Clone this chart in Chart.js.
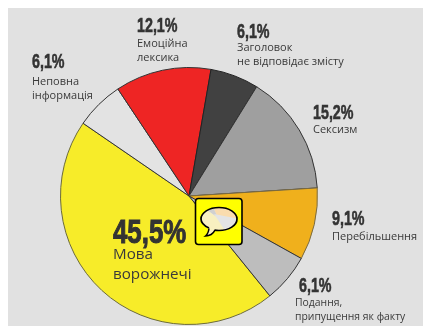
<!DOCTYPE html>
<html>
<head>
<meta charset="utf-8">
<script src="https://cdn.jsdelivr.net/npm/chart.js"></script>
<style>
	html, body { margin: 0; padding: 0; background: #fff; overflow: hidden; }
	#panel { position: absolute; left: 8px; top: 8px; width: 415px; height: 318px; background: #e1e1e1; }
	#wrap { position: absolute; left: 59px; top: 66px; width: 260px; height: 260px; }
	.pct, .name { position: absolute; white-space: pre; color: #333; }
	.pct { font-family: "Liberation Sans", sans-serif; font-weight: bold; font-size: 21px; line-height: 20px; transform-origin: 0 0; transform: scaleX(0.68); -webkit-text-stroke: 0.6px #333; }
	.name { font-family: "Open Sans", sans-serif; font-size: 11px; line-height: 14px; color: #3a3a3a; }
	#icon { position: absolute; left: 194px; top: 197px; }
</style>
</head>
<body>
<div id="panel"></div>
<div id="wrap"><canvas id="myChart"></canvas></div>
<svg id="icon" width="50" height="50" viewBox="194 197 50 50">
	<rect x="195.5" y="198.5" width="46.5" height="46" rx="3" fill="#ffff00" stroke="#000" stroke-width="1.6"/>
	<clipPath id="bubble"><ellipse cx="219" cy="219" rx="18" ry="11.5"/></clipPath>
	<ellipse cx="219" cy="219" rx="18" ry="11.5" fill="#e4e4e4"/>
	<g clip-path="url(#bubble)">
		<path d="M218 218 L212 205 L240 205 L240 219 Z" fill="#fadcae"/>
		<path d="M218 218 L200 205 L212 205 Z" fill="#d0d0d0"/>
		<path d="M218 218 L200 205 L198 232 L226 232 Z" fill="#f8f0c0"/>
		<path d="M214 214 L226 232 L240 232 L240 219 Z" fill="#e4e4e4"/>
	</g>
	<path d="M209 228.5 C208.5 232 207.5 234.5 205.5 236 C209.5 236 213 234 215 230.2" fill="#f8f0c0" stroke="#000" stroke-width="1.5"/>
	<path d="M209 228 C203.5 225.5 201 222.5 201 219 C201 212.6 209 207.5 219 207.5 C229 207.5 237 212.6 237 219 C237 225.4 229 230.5 219 230.5 C217.5 230.5 216 230.4 214.5 230.1" fill="none" stroke="#000" stroke-width="1.7"/>
</svg>
<script>
	// values going clockwise from the bottom right, starting at the big yellow slice
	const categories = ["Мова\nворожнечі", "Неповна\nінформація", "Емоційна\nлексика", "Заголовок\nне відповідає змісту", "Сексизм", "Перебільшення", "Подання,\nприпущення як факту"];
	const percents = [45.5, 6.1, 12.1, 6.1, 15.2, 9.1, 6.1];
	const colors = ["#f7ec29", "#e3e3e3", "#ee2524", "#414141", "#9f9f9f", "#f0b01c", "#bdbdbd"];
	const edgeColors = ["#6b6a3a", "#333333", "#333333", "#222222", "#333333", "#7a6a40", "#333333"];

	// where the captions sit: pct x, pct y, name x, name y, pct size, name size, name line height
	const captionPos = [
		[113, 214, 113, 243, 34, 15.2, 20],
		[32, 51, 32, 74, 0, 0, 0],
		[137, 15, 137, 36, 0, 0, 0],
		[237, 21, 237, 40, 0, 0, 0],
		[313, 102, 313, 122, 0, 0, 0],
		[332, 208, 332, 229, 0, 0, 0],
		[299, 275, 295, 295, 0, 10.4, 14],
	];

	percents.forEach((p, i) => {
		let pos = captionPos[i];
		let pct = document.createElement("div");
		pct.className = "pct";
		pct.innerText = p.toFixed(1).replace(".", ",") + "%";
		pct.style.left = pos[0] + "px";
		pct.style.top = pos[1] + "px";
		if (pos[4]) {
			pct.style.fontSize = pos[4] + "px";
			pct.style.lineHeight = pos[4] + "px";
			pct.style.webkitTextStroke = "1px #333";
			pct.style.transform = "scaleX(0.76)";
		}
		document.body.appendChild(pct);

		let name = document.createElement("div");
		name.className = "name";
		name.textContent = categories[i];
		name.style.left = pos[2] + "px";
		name.style.top = pos[3] + "px";
		if (pos[5]) {
			name.style.fontSize = pos[5] + "px";
			name.style.lineHeight = pos[6] + "px";
		}
		document.body.appendChild(name);
	});

	new Chart(document.getElementById("myChart"), {
		type: "pie",
		data: {
			labels: categories,
			datasets: [{
				data: percents,
				backgroundColor: colors,
				borderColor: edgeColors,
				borderWidth: 1,
			}]
		},
		options: {
			animation: false,
			responsive: true,
			maintainAspectRatio: false,
			rotation: 141,
			layout: { padding: 1 },
			plugins: {
				legend: { display: false },
				tooltip: { enabled: false },
			},
		}
	});
</script>
</body>
</html>
